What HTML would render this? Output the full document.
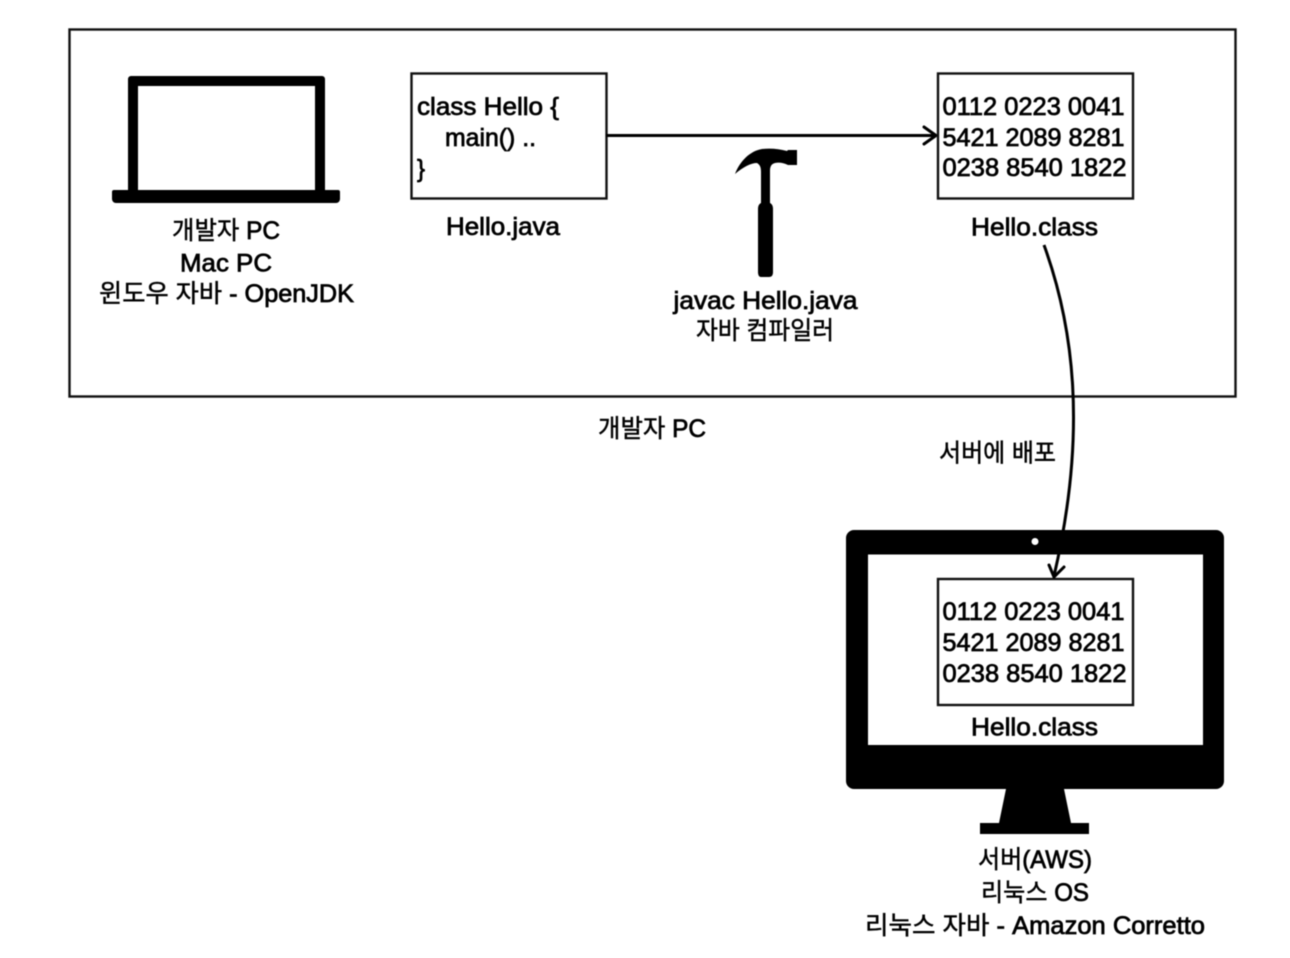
<!DOCTYPE html>
<html lang="ko">
<head>
<meta charset="utf-8">
<title>Java deployment diagram</title>
<style>
html,body{margin:0;padding:0;background:#fff;width:1290px;height:958px;overflow:hidden}
svg{display:block;filter:blur(0.5px)}
text{font-family:"Liberation Sans","Noto Sans CJK KR","NanumGothic",sans-serif;font-size:25px;fill:#000;stroke:#000;stroke-width:.75px}
text.k{stroke-width:.45px}
text.k tspan{stroke-width:.75px}
</style>
</head>
<body>
<svg width="1290" height="958" viewBox="0 0 1290 958" xmlns="http://www.w3.org/2000/svg">
<rect width="1290" height="958" fill="#fff"/>
<rect x="69.500" y="29.500" width="1166" height="367" fill="none" stroke="#111" stroke-width="2.400"/>

<!-- Laptop -->
<path fill="#000" fill-rule="evenodd" d="M131 76H322a3 3 0 0 1 3 3V190H338a2 2 0 0 1 2 2V199a4 4 0 0 1-4 4H116a4 4 0 0 1-4-4V192a2 2 0 0 1 2-2H128V79a3 3 0 0 1 3-3ZM138 86V190H315V86Z"/>

<!-- Source box -->
<rect x="411.500" y="73.500" width="195" height="125" fill="#fff" stroke="#111" stroke-width="2.400"/>
<text x="417" y="115" textLength="142" lengthAdjust="spacingAndGlyphs">class Hello {</text>
<text x="445" y="146" textLength="91" lengthAdjust="spacingAndGlyphs">main() ..</text>
<text x="417" y="177" textLength="8" lengthAdjust="spacingAndGlyphs">}</text>
<text x="446" y="235" textLength="114" lengthAdjust="spacingAndGlyphs">Hello.java</text>

<!-- Compile arrow -->
<path d="M606 135.500H936" fill="none" stroke="#000" stroke-width="3"/>
<path d="M924 127L936 135.500L924 144" fill="none" stroke="#000" stroke-width="3" stroke-linecap="round" stroke-linejoin="round"/>

<!-- Class box top -->
<rect x="938" y="73.500" width="195" height="125" fill="#fff" stroke="#111" stroke-width="2.400"/>
<text x="942.500" y="115" textLength="182" lengthAdjust="spacingAndGlyphs">0112 0223 0041</text>
<text x="942.500" y="146" textLength="182" lengthAdjust="spacingAndGlyphs">5421 2089 8281</text>
<text x="942.500" y="176" textLength="184" lengthAdjust="spacingAndGlyphs">0238 8540 1822</text>
<text x="971" y="235.500" textLength="127" lengthAdjust="spacingAndGlyphs">Hello.class</text>

<!-- Hammer -->
<path fill="#000" d="M735 174C740 161 750 151 762 149C771 148 779 149 787 151L788 150H797V165H788C784 163 779 162 775 163C771 164 770 167 770 171V203C772 204 773 206 773 209V272C773 275 772 277 769 277H761C759 277 758 275 758 272V209C758 206 759 204 761 203V172C761 167 760 165 757 163C751 163 743 167 735 174Z"/>
<text x="673.500" y="309" textLength="184" lengthAdjust="spacingAndGlyphs">javac Hello.java</text>
<text class="k" x="696" y="339" textLength="138" lengthAdjust="spacingAndGlyphs">자바 컴파일러</text>

<!-- Laptop labels -->
<text class="k" x="172" y="239" textLength="108" lengthAdjust="spacingAndGlyphs">개발자 <tspan>PC</tspan></text>
<text x="180" y="271.500" textLength="92" lengthAdjust="spacingAndGlyphs">Mac PC</text>
<text class="k" x="99" y="302" textLength="255" lengthAdjust="spacingAndGlyphs">윈도우 자바 <tspan>- OpenJDK</tspan></text>

<text class="k" x="598" y="437" textLength="108" lengthAdjust="spacingAndGlyphs">개발자 <tspan>PC</tspan></text>
<text class="k" x="939" y="461.500" textLength="117" lengthAdjust="spacingAndGlyphs">서버에 배포</text>

<!-- Monitor -->
<path fill="#000" fill-rule="evenodd" d="M854 530H1216a8 8 0 0 1 8 8V781a8 8 0 0 1-8 8H1064L1071 823H1089V834H980V823H999L1006 789H854a8 8 0 0 1-8-8V538a8 8 0 0 1 8-8ZM868 554.500V745H1203V554.500Z"/>
<circle cx="1035" cy="541.500" r="3.500" fill="#fff"/>

<!-- Class box bottom -->
<rect x="938" y="579" width="195" height="126" fill="#fff" stroke="#111" stroke-width="2.400"/>
<text x="942.500" y="620" textLength="182" lengthAdjust="spacingAndGlyphs">0112 0223 0041</text>
<text x="942.500" y="651" textLength="182" lengthAdjust="spacingAndGlyphs">5421 2089 8281</text>
<text x="942.500" y="682" textLength="184" lengthAdjust="spacingAndGlyphs">0238 8540 1822</text>
<text x="971" y="735.500" textLength="127" lengthAdjust="spacingAndGlyphs">Hello.class</text>

<!-- Deploy curve -->
<path d="M1044 245C1073 325 1088 430 1054 576" fill="none" stroke="#000" stroke-width="3"/>
<path d="M1049 565L1054 577L1064 567" fill="none" stroke="#000" stroke-width="3" stroke-linecap="round" stroke-linejoin="round"/>

<!-- Server labels -->
<text class="k" x="978" y="868" textLength="114" lengthAdjust="spacingAndGlyphs">서버<tspan>(AWS)</tspan></text>
<text class="k" x="981" y="901" textLength="108" lengthAdjust="spacingAndGlyphs">리눅스 <tspan>OS</tspan></text>
<text class="k" x="865" y="934" textLength="340" lengthAdjust="spacingAndGlyphs">리눅스 자바 <tspan>- Amazon Corretto</tspan></text>
</svg>
</body>
</html>
